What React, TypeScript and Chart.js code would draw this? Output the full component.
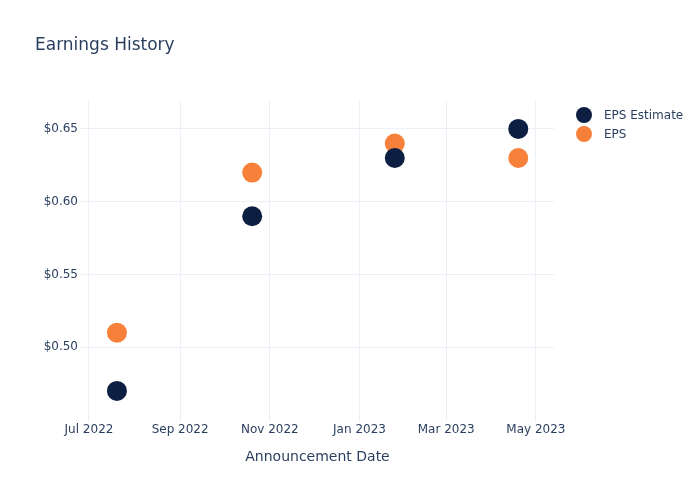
import React, { useEffect, useRef } from "react";
import { Chart, registerables } from "chart.js";

Chart.register(...registerables);

const announcementDates = ["2022-07-20", "2022-10-20", "2023-01-25", "2023-04-19"];
const epsEstimate = [0.47, 0.59, 0.63, 0.65];
const epsActual = [0.51, 0.62, 0.64, 0.63];

const xTickDates = ["2022-07-01", "2022-09-01", "2022-11-01", "2023-01-01", "2023-03-01", "2023-05-01"];
const xTickLabels = ["Jul 2022", "Sep 2022", "Nov 2022", "Jan 2023", "Mar 2023", "May 2023"];
const yTicks = [0.5, 0.55, 0.6, 0.65];

const seriesNames = ["EPS Estimate", "EPS"];
const seriesColors = ["#0C1F42", "#F7813A"];

const DAY = 86400000;
const ts = (s: string) => new Date(s + "T00:00:00Z").getTime();

const FONT = "'DejaVu Sans', sans-serif";
const TEXT = "#2A3F5F";
const GRID = "#EBF0F8";

export default function App() {
  const ref = useRef<HTMLCanvasElement | null>(null);

  useEffect(() => {
    document.body.style.margin = "0";
    const canvas = ref.current;
    if (!canvas) return;

    const overlay = {
      id: "overlay",
      afterDraw(chart: any) {
        const ctx = chart.ctx;
        ctx.save();
        ctx.fillStyle = TEXT;
        ctx.font = `17px ${FONT}`;
        ctx.textAlign = "left";
        ctx.textBaseline = "middle";
        ctx.fillText("Earnings History", 35, 46);
        ctx.font = `12px ${FONT}`;
        chart.data.datasets.forEach((ds: any, i: number) => {
          const y = 115 + i * 19;
          ctx.beginPath();
          ctx.arc(584, y, 8, 0, Math.PI * 2);
          ctx.fillStyle = ds.backgroundColor;
          ctx.fill();
          ctx.fillStyle = TEXT;
          ctx.fillText(ds.label, 604, y + 1);
        });
        ctx.restore();
      },
    };

    const origin = ts("2022-07-01");
    const chart = new Chart(canvas, {
      type: "scatter",
      data: {
        datasets: [
          {
            label: seriesNames[0],
            data: announcementDates.map((d, i) => ({ x: ts(d), y: epsEstimate[i] })),
            backgroundColor: seriesColors[0],
            borderColor: seriesColors[0],
            pointRadius: 10,
            pointHoverRadius: 10,
            borderWidth: 0,
          },
          {
            label: seriesNames[1],
            data: announcementDates.map((d, i) => ({ x: ts(d), y: epsActual[i] })),
            backgroundColor: seriesColors[1],
            borderColor: seriesColors[1],
            pointRadius: 10,
            pointHoverRadius: 10,
            borderWidth: 0,
          },
        ],
      },
      options: {
        animation: false,
        responsive: false,
        devicePixelRatio: 1,
        layout: { padding: { top: 101, right: 146, left: 1, bottom: 0 } },
        plugins: {
          legend: { display: false },
          title: { display: false },
          tooltip: { enabled: false },
        },
        scales: {
          x: {
            type: "linear",
            min: origin - 5.44 * DAY,
            max: origin + 316.3 * DAY,
            afterBuildTicks: (scale: any) => {
              scale.ticks = xTickDates.map((d) => ({ value: ts(d) }));
            },
            afterFit: (scale: any) => {
              scale.height = 79;
            },
            ticks: {
              autoSkip: false,
              maxRotation: 0,
              padding: 2,
              color: TEXT,
              font: { family: FONT, size: 12 },
              callback: (v: any) => {
                const idx = xTickDates.findIndex((d) => ts(d) === v);
                return idx >= 0 ? xTickLabels[idx] : "";
              },
            },
            grid: { color: GRID, lineWidth: 1, drawTicks: false },
            border: { display: false },
            title: {
              display: true,
              text: "Announcement Date",
              color: TEXT,
              font: { family: FONT, size: 14 },
              padding: { top: 0, bottom: 34 },
            },
          },
          y: {
            min: 0.4493,
            max: 0.6692,
            afterBuildTicks: (scale: any) => {
              scale.ticks = yTicks.map((v) => ({ value: v }));
            },
            afterFit: (scale: any) => {
              scale.width = 80;
            },
            ticks: {
              padding: 3,
              color: TEXT,
              font: { family: FONT, size: 12 },
              callback: (v: any) => "$" + Number(v).toFixed(2),
            },
            grid: { color: GRID, lineWidth: 1, drawTicks: false },
            border: { display: false },
          },
        },
      },
      plugins: [overlay],
    } as any);

    return () => chart.destroy();
  }, []);

  return (
    <div style={{ width: 700, height: 500, background: "#fff" }}>
      <canvas ref={ref} width={700} height={500} />
    </div>
  );
}
